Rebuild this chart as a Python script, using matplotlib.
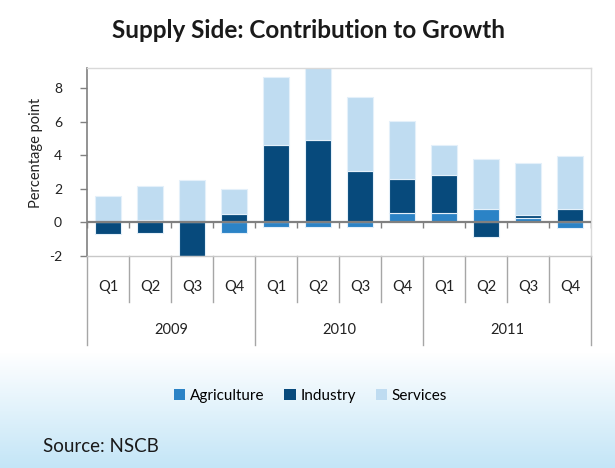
import numpy as np
import matplotlib
matplotlib.use('Agg')
import matplotlib.pyplot as plt
from matplotlib.transforms import blended_transform_factory
from matplotlib.patches import Patch

plt.rcParams['font.family'] = ['Lato', 'DejaVu Sans']

quarters = ['Q1', 'Q2', 'Q3', 'Q4'] * 3
years = ['2009', '2010', '2011']

agriculture = [0.0, 0.16, 0.0, -0.62, -0.26, -0.26, -0.26, 0.54, 0.54, 0.78, 0.24, -0.36]
industry = [-0.68, -0.62, -2.0, 0.52, 4.6, 4.93, 3.04, 2.03, 2.26, -0.84, 0.2, 0.78]
services = [1.6, 2.0, 2.5, 1.5, 4.04, 4.5, 4.42, 3.5, 1.82, 3.02, 3.1, 3.18]

series = [('Agriculture', agriculture, '#2b83c6'),
          ('Industry', industry, '#074a7c'),
          ('Services', services, '#bfdcf1')]

fig = plt.figure(figsize=(6.15, 4.68), dpi=100)

# background gradient (white -> light blue towards the bottom)
bg = fig.add_axes([0, 0, 1, 1], zorder=-10)
bg.set_axis_off()
h = 468
grad = np.ones((h, 1, 3))
top_c = np.array([1.0, 1.0, 1.0])
bot_c = np.array([195, 229, 247]) / 255
start = 352
for r in range(start, h):
    t = (r - start) / (h - start)
    grad[r, 0] = top_c * (1 - t) + bot_c * t
bg.imshow(grad, aspect='auto', extent=[0, 1, 0, 1])
bg.set_xlim(0, 1)
bg.set_ylim(0, 1)

ax = fig.add_axes([87 / 615, 1 - 256 / 468, 504 / 615, 188 / 468])
x = np.arange(len(quarters))

pos_base = np.zeros(len(x))
neg_base = np.zeros(len(x))
for name, vals, color in series:
    vals = np.array(vals)
    bottom = np.where(vals >= 0, pos_base, neg_base)
    ax.bar(x, vals, width=0.62, bottom=bottom, color=color,
           edgecolor='#e4f0fa', linewidth=0.8, label=name, zorder=2)
    pos_base += np.where(vals >= 0, vals, 0)
    neg_base += np.where(vals < 0, vals, 0)

ax.set_xlim(-0.5, 11.5)
ax.set_ylim(-2, 9.2)
ax.set_yticks([-2, 0, 2, 4, 6, 8])
ax.set_yticklabels(['-2', '0', '2', '4', '6', '8'])
ax.tick_params(axis='y', direction='out', length=5, width=1, color='#808080',
               pad=13, labelsize=10, labelcolor='#222222')
ax.set_xticks([])
ax.set_ylabel('Percentage point', fontsize=10.5, color='#222222')
ax.yaxis.set_label_coords(-0.088, 0.55)

for side in ['top', 'right']:
    ax.spines[side].set_color('#d9d9d9')
    ax.spines[side].set_linewidth(1)
ax.spines['left'].set_color('#808080')
ax.spines['left'].set_linewidth(1.2)
ax.spines['bottom'].set_color('#c8c8c8')
ax.spines['bottom'].set_linewidth(1)

# zero axis with tick marks at category boundaries
bounds = np.arange(-0.5, 12, 1.0)
ax.axhline(0, color='#808080', linewidth=1.6, zorder=3)
ax.vlines(bounds, -0.36, 0, color='#808080', linewidth=1, zorder=3)

# multi-level category axis below the plot
tr = blended_transform_factory(ax.transData, fig.transFigure)
y_axis_bottom = 1 - 256 / 468
y_q_sep = 1 - 302 / 468
y_yr_sep = 1 - 345 / 468
for i, b in enumerate(bounds):
    y_end = y_yr_sep if i % 4 == 0 else y_q_sep
    ax.plot([b, b], [y_axis_bottom, y_end], transform=tr, color='#a6a6a6',
            linewidth=1, clip_on=False)
for i, q in enumerate(quarters):
    ax.text(x[i], 1 - 287 / 468, q, transform=tr, ha='center', va='center',
            fontsize=10.5, color='#222222')
for k, yr in enumerate(years):
    ax.text(4 * k + 1.5, 1 - 330 / 468, yr, transform=tr, ha='center',
            va='center', fontsize=10.5, color='#222222')

handles = [Patch(facecolor=c, edgecolor='none', label=n) for n, _, c in series]
fig.legend(handles=handles, loc='center', bbox_to_anchor=(0.505, 1 - 396 / 468),
           ncol=3, frameon=False, fontsize=11, handlelength=0.75,
           handleheight=0.75, handletextpad=0.3, columnspacing=1.3)

fig.text(0.502, 1 - 31 / 468, 'Supply Side: Contribution to Growth', ha='center',
         va='center', fontsize=17.5, fontweight='bold', color='#1a1a1a')
fig.text(43 / 615, 1 - 447 / 468, 'Source: NSCB', ha='left', va='center',
         fontsize=13.5, color='#1a1a1a')

fig.savefig('out.png', dpi=100)
